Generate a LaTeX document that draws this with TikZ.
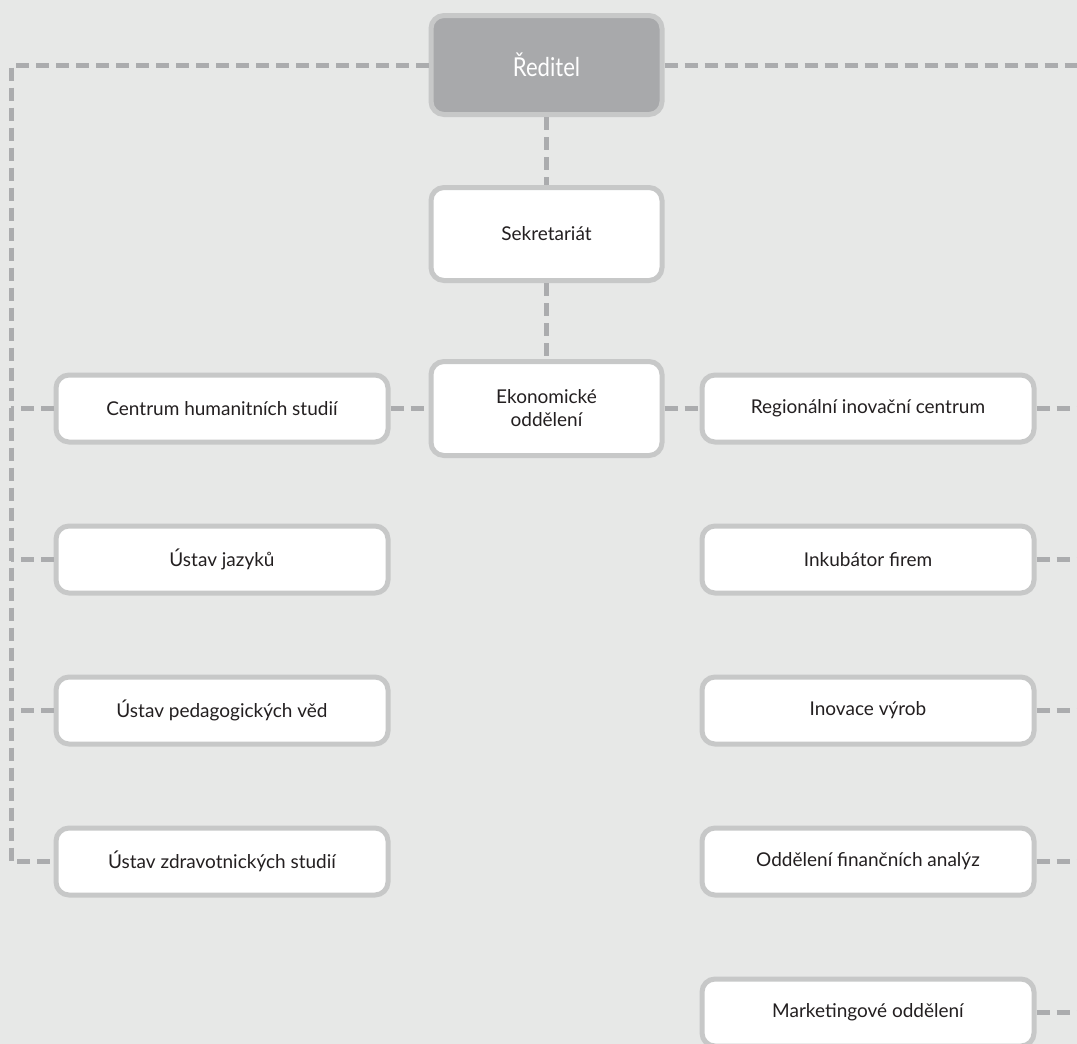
\documentclass[tikz,border=0pt]{standalone}
\usepackage{fontspec}
\setmainfont{Lato}
\newfontfamily\narrowfont[FakeStretch=0.85]{Lato}
\usetikzlibrary{positioning}

\definecolor{bgcol}{HTML}{E7E8E7}
\definecolor{rimcol}{HTML}{C7C8C8}
\definecolor{linkcol}{HTML}{ABACAE}
\definecolor{headcol}{HTML}{A8A9AB}
\definecolor{textcol}{HTML}{231F20}

\tikzset{
	unit/.style={draw=rimcol, line width=5pt, fill=white, rounded corners=13pt,
		text=textcol, font=\fontsize{19}{23}\selectfont, align=center},
	sideunit/.style={unit, minimum width=332pt, minimum height=67pt},
	midunit/.style={unit, minimum width=231pt, minimum height=93pt},
	link/.style={draw=linkcol, line width=5pt, dash pattern=on 13pt off 7pt},
}

\begin{document}
\begin{tikzpicture}[x=1pt, y=-1pt]
	\fill[bgcol] (0,0) rectangle (1077,1044);
	\useasboundingbox (0,0) rectangle (1077,1044);

	\node[midunit, fill=headcol, text=white, minimum height=99pt,
		font=\narrowfont\fontsize{26}{30}\selectfont] (reditel) at (546.5,65) {Ředitel};
	\node[midunit, below=68pt of reditel] (sekretariat) {Sekretariát};
	\node[midunit, below=76pt of sekretariat, minimum height=94pt] (ekonom) {Ekonomické\\oddělení};

	\node[sideunit, left=38pt of ekonom] (centrum) {Centrum humanitních studií};
	\node[sideunit, below=79pt of centrum] (jazyky) {Ústav jazyků};
	\node[sideunit, below=79pt of jazyky] (pedag) {Ústav pedagogických věd};
	\node[sideunit, below=79pt of pedag] (zdrav) {Ústav zdravotnických studií};

	\node[sideunit, right=35pt of ekonom] (region) {Regionální inovační centrum};
	\node[sideunit, below=79pt of region] (inkub) {Inkubátor firem};
	\node[sideunit, below=79pt of inkub] (inovace) {Inovace výrob};
	\node[sideunit, below=79pt of inovace] (financ) {Oddělení finančních analýz};
	\node[sideunit, below=79pt of financ] (market) {Marketingové oddělení};

	\coordinate (lefttop) at (11,65);
	\coordinate (righttop) at (1077,65);

	\draw[link] (reditel.west) -- (lefttop) -- (lefttop |- zdrav.west) -- (zdrav.west);
	\foreach \n in {centrum, jazyky, pedag}
		\draw[link] (\n.west) -- (\n.west -| lefttop);
	\draw[link] (reditel.east) -- (righttop);
	\foreach \n in {region, inkub, inovace, financ, market}
		\draw[link] (\n.east) -- (\n.east -| righttop);
	\draw[link] (reditel.south) -- (sekretariat.north);
	\draw[link] (sekretariat.south) -- (ekonom.north);
	\draw[link] (centrum.east) -- (ekonom.west);
	\draw[link] (ekonom.east) -- (region.west);
\end{tikzpicture}
\end{document}
